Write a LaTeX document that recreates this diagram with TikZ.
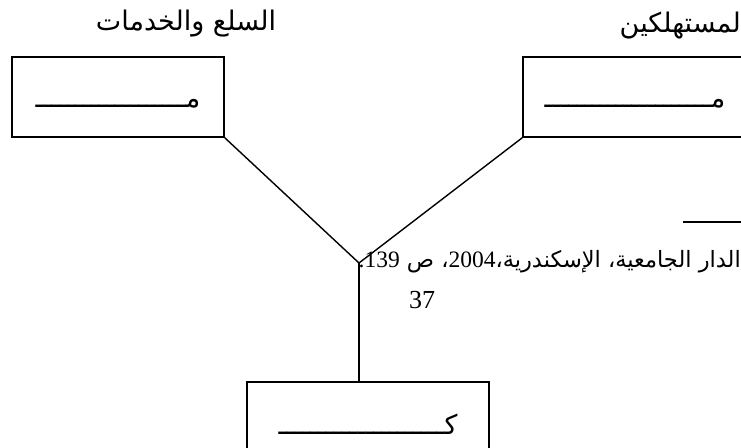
\documentclass[tikz,border=0pt]{standalone}
\usepackage{fontspec}
\setmainfont{Liberation Serif}
\newfontfamily\arabicfont[Script=Arabic]{DejaVu Sans}
\TeXXeTstate=1
\begin{document}
\begin{tikzpicture}[x=1pt,y=-1pt,
  boxstyle/.style={draw,line width=1.5pt,rectangle,inner sep=0pt},
  conn/.style={line width=1.4pt},
  artext/.style={inner sep=0pt,font=\arabicfont\fontsize{27}{30}\selectfont}]
\useasboundingbox (0,0) rectangle (741,447);
\clip (0,0) rectangle (741,447);
\node[boxstyle,minimum width=212pt,minimum height=80pt] (L) at (118,97) {};
\node[boxstyle,minimum width=240pt,minimum height=80pt] (R) at (643,97) {};
\node[boxstyle,minimum width=242pt,minimum height=90pt] (B) at (368,427) {};
\coordinate (J) at (359,263);
\draw[conn] (L.south east) -- (J);
\draw[conn] (R.south west) -- (J);
\draw[conn] (J) -- (J |- B.north);
\node[artext] (t1) at (186,24) {\beginR السلع والخدمات\endR};
\node[artext,anchor=east] (t2) at (741,26) {\beginR لمستهلكين\endR};
\node[artext] (m1) at (118,104) {\beginR مـــــــــــــــــــ\endR};
\node[artext] (m2) at (635,104) {\beginR مـــــــــــــــــــــ\endR};
\node[artext] (k1) at (368,424) {\beginR كـــــــــــــــــــــ\endR};
\coordinate (s1) at (683,222);
\coordinate (s2) at (741,222);
\draw[conn] (s1) -- (s2);
\node[inner sep=0pt,anchor=east,font=\arabicfont\fontsize{22.5}{25}\selectfont] (fn) at (741,262) {\beginR الدار الجامعية، الإسكندرية،\beginL{\rmfamily\fontsize{23.5}{25}\selectfont 2004}\endL، ص \beginL{\rmfamily\fontsize{23.5}{25}\selectfont 139}\endL{\rmfamily\fontsize{23.5}{25}\selectfont .}\endR};
\node[inner sep=0pt,font=\fontsize{26}{28}\selectfont] (p) at (422,300) {37};
\end{tikzpicture}
\end{document}
